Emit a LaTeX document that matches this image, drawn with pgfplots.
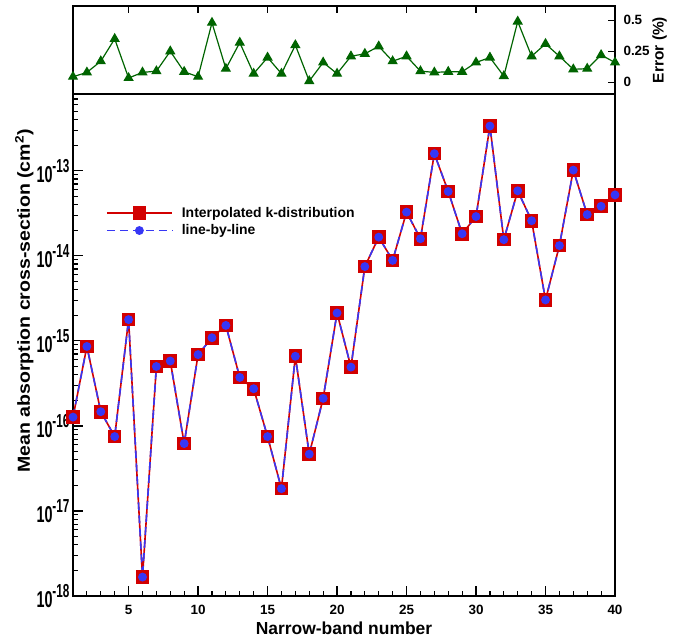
\documentclass[border=0pt]{standalone}
\usepackage{fontspec}
\setmainfont{Liberation Sans}
\usepackage{graphicx}
\usepackage{pgfplots}
\pgfplotsset{compat=1.18}
\definecolor{myred}{RGB}{210,0,0}
\definecolor{myblue}{RGB}{55,55,245}
\definecolor{mygreen}{RGB}{0,100,0}
\newcommand{\tlab}[1]{\scalebox{1}[1.6]{\fontsize{14.4}{14.4}\selectfont\bfseries 10\raisebox{6.3bp}{\fontsize{11.8}{11.8}\selectfont\bfseries -#1}}}

\pgfplotstableread{
x y
1 1.27e-16
2 8.6e-16
3 1.47e-16
4 7.5e-17
5 1.78e-15
6 1.67e-18
7 5.0e-16
8 5.8e-16
9 6.2e-17
10 6.9e-16
11 1.09e-15
12 1.52e-15
13 3.72e-16
14 2.74e-16
15 7.5e-17
16 1.83e-17
17 6.6e-16
18 4.66e-17
19 2.11e-16
20 2.13e-15
21 4.92e-16
22 7.48e-15
23 1.66e-14
24 8.85e-15
25 3.27e-14
26 1.59e-14
27 1.59e-13
28 5.71e-14
29 1.82e-14
30 2.90e-14
31 3.36e-13
32 1.55e-14
33 5.82e-14
34 2.59e-14
35 3.03e-15
36 1.32e-14
37 1.02e-13
38 3.06e-14
39 3.83e-14
40 5.21e-14
}\kdist

\pgfplotstableread{
x y
1 1.27e-16
2 8.6e-16
3 1.47e-16
4 7.5e-17
5 1.78e-15
6 1.67e-18
7 5.0e-16
8 5.8e-16
9 6.2e-17
10 6.9e-16
11 1.09e-15
12 1.52e-15
13 3.72e-16
14 2.74e-16
15 7.5e-17
16 1.83e-17
17 6.6e-16
18 4.66e-17
19 2.11e-16
20 2.13e-15
21 4.92e-16
22 7.48e-15
23 1.66e-14
24 8.85e-15
25 3.27e-14
26 1.59e-14
27 1.59e-13
28 5.71e-14
29 1.82e-14
30 2.90e-14
31 3.36e-13
32 1.55e-14
33 5.82e-14
34 2.59e-14
35 3.03e-15
36 1.32e-14
37 1.02e-13
38 3.06e-14
39 3.83e-14
40 5.21e-14
}\lbl

\pgfplotstableread{
x e
1 0.045
2 0.08
3 0.17
4 0.35
5 0.035
6 0.08
7 0.09
8 0.25
9 0.085
10 0.045
11 0.48
12 0.11
13 0.32
14 0.07
15 0.20
16 0.07
17 0.30
18 0.01
19 0.16
20 0.07
21 0.21
22 0.23
23 0.29
24 0.17
25 0.21
26 0.09
27 0.08
28 0.085
29 0.085
30 0.16
31 0.20
32 0.05
33 0.49
34 0.21
35 0.31
36 0.21
37 0.105
38 0.11
39 0.22
40 0.16
}\err

\begin{document}
\begin{tikzpicture}
\useasboundingbox (0,0) rectangle (675bp,640bp);
\begin{axis}[
  at={(73bp,44bp)}, anchor=south west,
  scale only axis, width=542bp, height=502bp,
  ymode=log, log basis y=10,
  xmin=1, xmax=40, ymin=1e-18, ymax=8e-13,
  xtick={5,10,...,40}, minor xtick={1,...,40},
  ytick={1e-18,1e-17,1e-16,1e-15,1e-14,1e-13},
  yticklabels={\tlab{18},\tlab{17},\tlab{16},\tlab{15},\tlab{14},\tlab{13}},
  minor ytick={2e-18,3e-18,4e-18,5e-18,6e-18,7e-18,8e-18,9e-18,
               2e-17,3e-17,4e-17,5e-17,6e-17,7e-17,8e-17,9e-17,
               2e-16,3e-16,4e-16,5e-16,6e-16,7e-16,8e-16,9e-16,
               2e-15,3e-15,4e-15,5e-15,6e-15,7e-15,8e-15,9e-15,
               2e-14,3e-14,4e-14,5e-14,6e-14,7e-14,8e-14,9e-14,
               2e-13,3e-13,4e-13,5e-13,6e-13,7e-13,8e-13},
  xtick pos=lower, ytick pos=lower,
  tick align=inside,
  major tick length=10bp, minor tick length=5bp,
  every tick/.style={black, line width=1.2bp},
  axis line style={line width=1.6bp},
  /pgf/number format/assume math mode=true,
  tick label style={font=\fontsize{13.5}{13.5}\selectfont\bfseries},
  xticklabel style={yshift=-6bp},
  yticklabel style={xshift=0bp},
  xlabel={Narrow-band number},
  ylabel={\scalebox{1.12}[1]{Mean absorption cross-section (cm\textsuperscript{2})}},
  label style={font=\fontsize{17.5}{17.5}\selectfont\bfseries},
  xlabel style={at={(rel axis cs:0.5,0)}, anchor=north, yshift=-22bp},
  ylabel style={at={(rel axis cs:0,0.588)}, anchor=south, yshift=36bp},
  legend style={at={(rel axis cs:0.055,0.783)}, anchor=north west, draw=none, fill=none,
     font=\fontsize{14}{15}\selectfont\bfseries, row sep=2bp},
  legend cell align=left,
  legend image code/.code={\draw[mark repeat=2,mark phase=2,#1] plot coordinates {(0cm,0cm) (1.15cm,0cm) (2.3cm,0cm)}; \path (2.55cm,0cm);},
]
\addplot[myred, line width=1.6bp, mark=square*, mark size=6bp, mark options={solid, fill=myred, draw=myred}] table[x=x,y=y] {\kdist};
\addlegendentry{Interpolated k-distribution}
\addplot[myblue, line width=1.6bp, dash pattern=on 8bp off 5bp, mark=*, mark size=3.6bp, mark options={solid, fill=myblue, draw=myblue}] table[x=x,y=y] {\lbl};
\addlegendentry{line-by-line}
\end{axis}

\begin{axis}[
  at={(73bp,546bp)}, anchor=south west,
  scale only axis, width=542bp, height=88bp,
  xmin=1, xmax=40, ymin=-0.094, ymax=0.615,
  xtick={5,10,...,35}, xticklabels={},
  xtick pos=upper,
  ytick={0,0.25,0.5}, yticklabels={0,0.25,0.5},
  ytick pos=upper, yticklabel pos=upper,
  tick align=inside,
  major tick length=7bp,
  every tick/.style={black, line width=1.2bp},
  axis line style={line width=1.6bp},
  tick label style={font=\fontsize{13.5}{13.5}\selectfont\bfseries},
  yticklabel style={anchor=west, xshift=5bp},
  ylabel={Error (\%)},
  label style={font=\fontsize{15.5}{15.5}\selectfont\bfseries},
  ylabel style={at={(rel axis cs:1,0.5)}, anchor=north, yshift=-34bp},
]
\addplot[mygreen, line width=1.2bp, mark=triangle*, mark size=4.8bp, mark options={fill=mygreen, draw=mygreen}] table[x=x,y=e] {\err};
\end{axis}
\end{tikzpicture}
\end{document}
